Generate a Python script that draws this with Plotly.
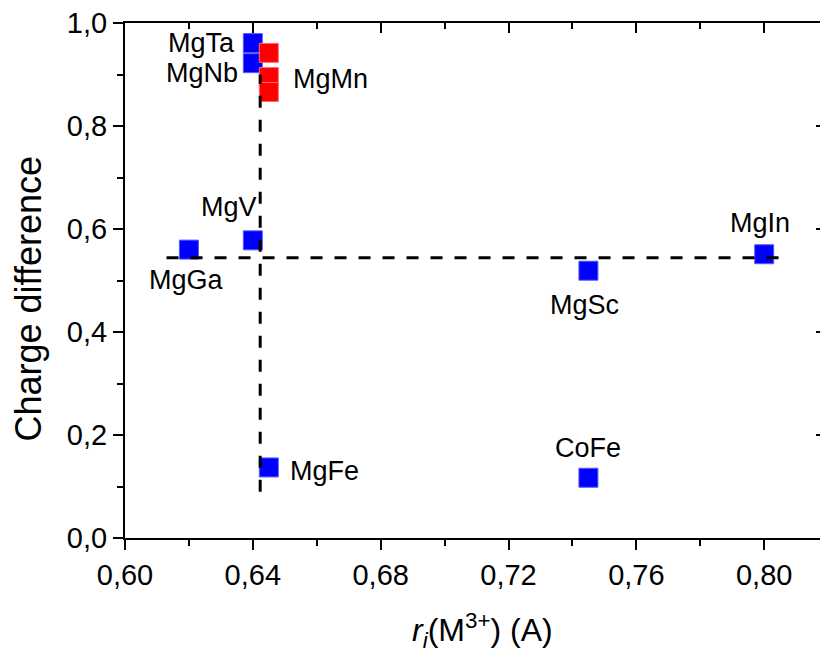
import plotly.graph_objects as go

# ---- data ----
blue_names = ["MgTa", "MgNb", "MgV", "MgGa", "MgSc", "MgIn", "CoFe", "MgFe"]
blue_x = [0.640, 0.640, 0.640, 0.620, 0.745, 0.800, 0.745, 0.645]
blue_y = [0.961, 0.922, 0.578, 0.560, 0.519, 0.551, 0.117, 0.137]

red_name = "MgMn"
red_x = [0.645, 0.645, 0.645]
red_y = [0.942, 0.895, 0.866]

hline_x = [0.613, 0.807]
hline_y = [0.544, 0.544]
vline_x = [0.6423, 0.6423]
vline_y = [0.09, 0.90]

x_ticks = [0.60, 0.64, 0.68, 0.72, 0.76, 0.80]
y_ticks = [0.0, 0.2, 0.4, 0.6, 0.8, 1.0]

# ---- styling ----
FONT = "Liberation Sans, Arial, sans-serif"
W, H = 820, 657
ML, MT, MB, MR = 125, 23, 119, 0
px_per_x = 3196.0
x_range = [0.60, 0.60 + (W - ML - MR) / px_per_x]
y_range = [0.0, 1.0]

# label placement (anchor, xshift, yshift) in pixels
blue_label_style = {
    "MgTa": ("right", -16, 0),
    "MgNb": ("right", -13, -10),
    "MgV": ("center", -23.5, 33),
    "MgGa": ("center", -2, -30.5),
    "MgSc": ("center", -4, -34),
    "MgIn": ("center", -4, 31),
    "CoFe": ("center", 0, 29.5),
    "MgFe": ("left", 19.5, -4),
}
red_label_style = ("left", 22, -2)

fig = go.Figure()

fig.add_trace(go.Scatter(
    x=blue_x, y=blue_y, mode="markers",
    marker=dict(symbol="square", size=19, color="#0000FF",
                line=dict(width=1, color="#5a5aff")),
    showlegend=False, hoverinfo="skip"))
fig.add_trace(go.Scatter(
    x=red_x, y=red_y, mode="markers",
    marker=dict(symbol="square", size=19, color="#FF0000",
                line=dict(width=1, color="#ff6a6a")),
    showlegend=False, hoverinfo="skip"))
for lx, ly in ((hline_x, hline_y), (vline_x, vline_y)):
    fig.add_trace(go.Scatter(
        x=lx, y=ly, mode="lines",
        line=dict(color="black", width=3, dash="12px,12px"),
        showlegend=False, hoverinfo="skip"))

# empty trace to activate mirror axes
fig.add_trace(go.Scatter(x=[], y=[], xaxis="x2", yaxis="y2", showlegend=False))

annotations = []
for name, x, y in zip(blue_names, blue_x, blue_y):
    anc, xs, ys = blue_label_style[name]
    annotations.append(dict(x=x, y=y, xref="x", yref="y", text=name,
                            showarrow=False, xanchor=anc, yanchor="middle",
                            xshift=xs, yshift=ys,
                            font=dict(family=FONT, size=27, color="black")))
anc, xs, ys = red_label_style
annotations.append(dict(x=red_x[1], y=red_y[1], xref="x", yref="y", text=red_name,
                        showarrow=False, xanchor=anc, yanchor="middle",
                        xshift=xs, yshift=ys,
                        font=dict(family=FONT, size=27, color="black")))
# axis titles
annotations.append(dict(x=0, y=0.465, xref="paper", yref="paper",
                        text="Charge difference", textangle=-90,
                        showarrow=False, xanchor="center", yanchor="middle",
                        xshift=-96,
                        font=dict(family=FONT, size=36, color="black")))
annotations.append(dict(x=0.5144, y=0, xref="paper", yref="paper",
                        text="<i>r</i><sub><i>i</i></sub>(M<sup>3+</sup>) (A)",
                        showarrow=False, xanchor="center", yanchor="middle",
                        yshift=-92,
                        font=dict(family=FONT, size=32, color="black")))

axis_common = dict(showgrid=False, zeroline=False, linecolor="black",
                   linewidth=2, tickcolor="black", tickwidth=2)

fig.update_layout(
    width=W, height=H,
    margin=dict(l=ML, r=MR, t=MT, b=MB, pad=0),
    paper_bgcolor="white", plot_bgcolor="white",
    separators=", ",
    font=dict(family=FONT, size=29, color="black"),
    xaxis=dict(range=x_range, tickmode="array", tickvals=x_ticks,
               tickformat=".2f", ticks="outside", ticklen=10,
               showline=True,
               minor=dict(ticks="outside", ticklen=6, dtick=0.02, tick0=0.60,
                          tickcolor="black", tickwidth=2),
               tickfont=dict(family=FONT, size=29), **axis_common),
    yaxis=dict(range=y_range, tickmode="array", tickvals=y_ticks,
               tickformat=".1f", ticks="outside", ticklen=10,
               showline=True,
               minor=dict(ticks="outside", ticklen=6, dtick=0.1, tick0=0.0,
                          tickcolor="black", tickwidth=2),
               tickfont=dict(family=FONT, size=29), **axis_common),
    xaxis2=dict(range=x_range, overlaying="x", side="top", anchor="y",
                tickmode="array", tickvals=x_ticks, showticklabels=False,
                ticks="inside", ticklen=10, showline=True,
                minor=dict(ticks="inside", ticklen=6, dtick=0.02, tick0=0.60,
                           tickcolor="black", tickwidth=2),
                **axis_common),
    yaxis2=dict(range=y_range, overlaying="y", side="right", anchor="x",
                tickmode="array", tickvals=y_ticks, showticklabels=False,
                ticks="inside", ticklen=4, showline=False,
                **axis_common),
    annotations=annotations,
)

fig.write_html("out.html")
